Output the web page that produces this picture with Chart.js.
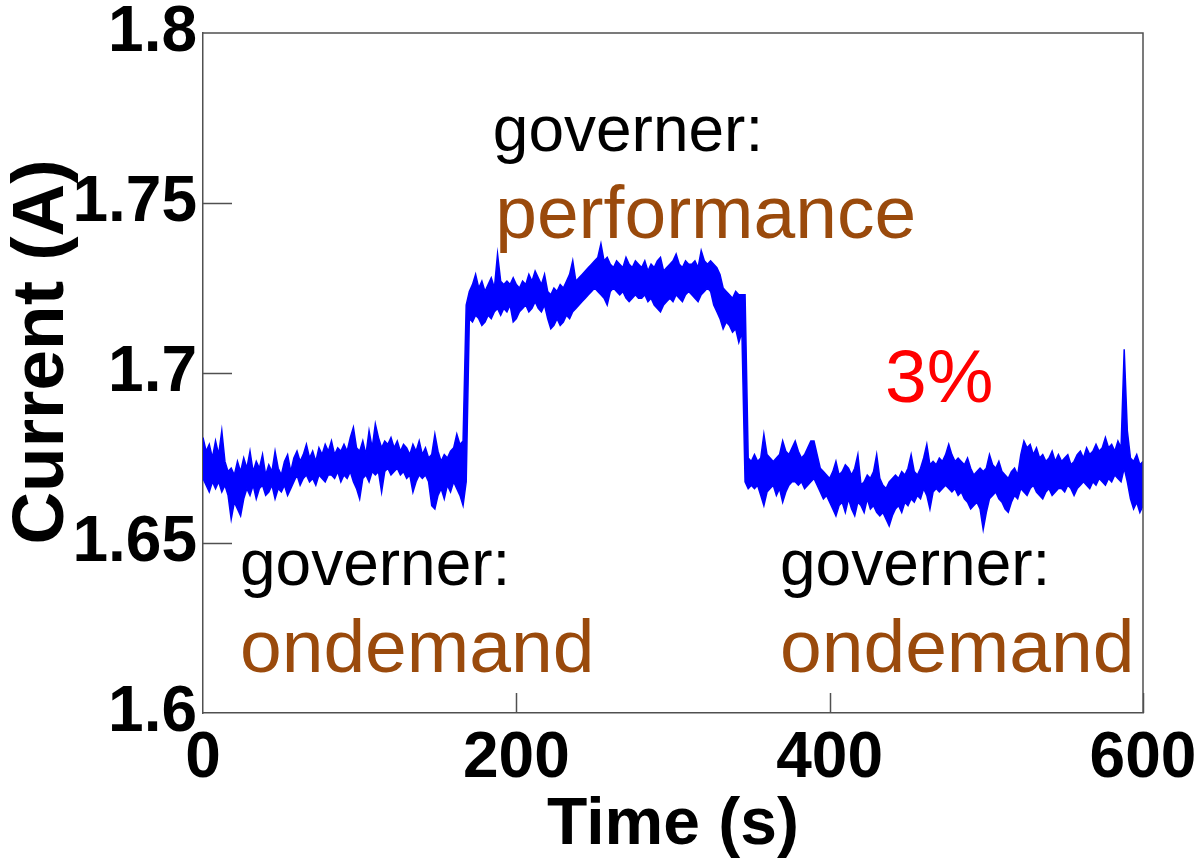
<!DOCTYPE html>
<html>
<head>
<meta charset="utf-8">
<script src="https://cdn.jsdelivr.net/npm/chart.js@4.4.1/dist/chart.umd.min.js"></script>
<style>
  html, body { margin: 0; padding: 0; background: #fff; }
  canvas { display: block; }
</style>
</head>
<body>
<canvas id="grafica" width="1203" height="859"></canvas>
<script>
// the trace is sampled far too fast to draw point by point,
// so it is kept as max / min of every 2 s bin and the gap is filled
const binStep = 2;

// governer: ondemand, 0..166 s
const maxOndemand1 = [
  1.681, 1.677, 1.679, 1.675, 1.680, 1.676, 1.683, 1.674,
  1.671, 1.672, 1.670, 1.674, 1.671, 1.675,
  1.672, 1.677, 1.671, 1.674, 1.672, 1.676, 1.670, 1.673, 1.671, 1.677, 1.672, 1.670, 1.674, 1.676, 1.671,
  1.675, 1.677, 1.674, 1.676, 1.679, 1.675, 1.677, 1.674, 1.678, 1.676, 1.679, 1.677,
  1.680, 1.676, 1.678, 1.677, 1.679, 1.677, 1.681, 1.684, 1.678, 1.677, 1.680, 1.676, 1.683, 1.678, 1.685,
  1.681, 1.678, 1.680, 1.679, 1.681, 1.678, 1.680, 1.677, 1.679, 1.678, 1.676, 1.679, 1.677, 1.680, 1.676, 1.678, 1.675,
  1.676, 1.682, 1.677, 1.674, 1.676, 1.675, 1.677, 1.678, 1.682, 1.679, 1.680
];
const minOndemand1 = [
  1.669, 1.667, 1.665, 1.668, 1.666, 1.668, 1.665, 1.667,
  1.664, 1.657, 1.662, 1.660, 1.658, 1.663,
  1.666, 1.664, 1.667, 1.663, 1.666, 1.667, 1.664, 1.665, 1.667, 1.663, 1.666, 1.665, 1.667, 1.664, 1.666,
  1.668, 1.670, 1.667, 1.669, 1.670, 1.668, 1.669, 1.667, 1.670, 1.669, 1.668, 1.670,
  1.670, 1.669, 1.671, 1.668, 1.670, 1.669, 1.671, 1.668, 1.666, 1.663, 1.669, 1.670, 1.668, 1.671, 1.670,
  1.671, 1.665, 1.671, 1.672, 1.670, 1.671, 1.672, 1.670, 1.671, 1.669, 1.670, 1.665, 1.668, 1.670, 1.669, 1.670, 1.668,
  1.661, 1.660, 1.664, 1.666, 1.663, 1.667, 1.665, 1.668, 1.666, 1.664, 1.661
];

// governer: performance, 168..346 s (both ends hold the step edges)
const maxPerformance = [
  1.720, 1.724, 1.726, 1.729, 1.725, 1.727, 1.724, 1.726, 1.728, 1.725, 1.735, 1.727,
  1.726, 1.727, 1.726, 1.728, 1.726, 1.725, 1.727, 1.726, 1.729, 1.727, 1.730, 1.728, 1.726, 1.729,
  1.724, 1.723, 1.725, 1.724, 1.726, 1.725, 1.727, 1.729, 1.733, 1.727, 1.728, 1.729, 1.730,
  1.731, 1.732, 1.733, 1.734, 1.738, 1.733, 1.734, 1.732, 1.731, 1.733, 1.732, 1.731, 1.734, 1.732, 1.731, 1.733, 1.732,
  1.731, 1.733, 1.730, 1.732, 1.731, 1.733, 1.734, 1.730, 1.731, 1.732, 1.733, 1.735, 1.732, 1.731, 1.733, 1.732,
  1.732, 1.733, 1.731, 1.736, 1.733, 1.732, 1.733,
  1.732, 1.731, 1.729, 1.725, 1.724, 1.723, 1.722, 1.724, 1.723, 1.723,
  1.723
];
const minPerformance = [
  1.668, 1.716, 1.715, 1.717, 1.716, 1.714, 1.715, 1.717, 1.716, 1.718, 1.719, 1.717,
  1.719, 1.718, 1.720, 1.715, 1.716, 1.718, 1.719, 1.720, 1.718, 1.719, 1.721, 1.719, 1.718, 1.720,
  1.716, 1.713, 1.714, 1.716, 1.714, 1.715, 1.717, 1.716, 1.718, 1.719, 1.720, 1.721, 1.722,
  1.723, 1.724, 1.725, 1.724, 1.723, 1.722, 1.720, 1.724, 1.725, 1.724, 1.723, 1.724, 1.722, 1.721, 1.722, 1.723, 1.722,
  1.722, 1.723, 1.721, 1.722, 1.720, 1.719, 1.718, 1.720, 1.721, 1.722, 1.721, 1.723, 1.722, 1.721, 1.723, 1.724,
  1.723, 1.722, 1.721, 1.723, 1.724, 1.725, 1.724,
  1.720, 1.718, 1.716, 1.713, 1.715, 1.714, 1.712, 1.713, 1.709, 1.712,
  1.668
];

// governer: ondemand again, 348..600 s
const maxOndemand2 = [
  1.675, 1.674, 1.676, 1.674, 1.675, 1.682, 1.676, 1.675, 1.674, 1.675, 1.676, 1.680, 1.677, 1.676, 1.678, 1.680, 1.677,
  1.675, 1.676, 1.678, 1.680, 1.680, 1.676, 1.672, 1.671, 1.670, 1.669, 1.671, 1.674, 1.670, 1.671, 1.673, 1.672,
  1.670, 1.672, 1.676, 1.667, 1.668, 1.670, 1.669, 1.671, 1.676, 1.669,
  1.667, 1.666, 1.668, 1.669, 1.670, 1.669, 1.671, 1.670, 1.672, 1.676, 1.671, 1.670, 1.672,
  1.675, 1.679, 1.673, 1.674, 1.673, 1.675, 1.674, 1.676, 1.679, 1.676, 1.674, 1.675, 1.674, 1.673, 1.675, 1.672, 1.670, 1.671, 1.672,
  1.671, 1.672, 1.676, 1.673, 1.672, 1.674, 1.671, 1.670, 1.669, 1.671, 1.672, 1.670,
  1.676, 1.680, 1.678, 1.679, 1.676, 1.678, 1.675, 1.676, 1.674, 1.675, 1.677, 1.674, 1.676,
  1.674, 1.675, 1.676, 1.673, 1.674, 1.676, 1.677, 1.675, 1.678, 1.676, 1.677, 1.679, 1.677, 1.678, 1.681, 1.678, 1.679, 1.677, 1.680, 1.678,
  1.707, 1.683,
  1.675, 1.674, 1.676, 1.673, 1.674
];
const minOndemand2 = [
  1.666, 1.667, 1.666, 1.667, 1.664, 1.661, 1.665, 1.666, 1.667, 1.664, 1.666, 1.662, 1.665, 1.667, 1.668, 1.668, 1.667,
  1.668, 1.666, 1.667, 1.668, 1.669, 1.667, 1.665, 1.663, 1.664, 1.662, 1.660, 1.658, 1.661, 1.662, 1.659, 1.663,
  1.660, 1.658, 1.662, 1.661, 1.659, 1.663, 1.660, 1.661, 1.659, 1.658,
  1.659, 1.657, 1.655, 1.658, 1.660, 1.661, 1.659, 1.662, 1.661, 1.663, 1.662, 1.664, 1.663,
  1.666, 1.664, 1.660, 1.665, 1.666, 1.665, 1.666, 1.667, 1.666, 1.665, 1.666, 1.664, 1.665, 1.663, 1.662, 1.660, 1.661, 1.662, 1.660,
  1.654, 1.659, 1.663, 1.664, 1.665, 1.663, 1.662, 1.660, 1.659, 1.662, 1.664, 1.663,
  1.666, 1.665, 1.664, 1.666, 1.667, 1.665, 1.664, 1.663, 1.665, 1.666, 1.664, 1.665, 1.666,
  1.666, 1.665, 1.667, 1.666, 1.664, 1.666, 1.667, 1.668, 1.667, 1.666, 1.668, 1.667, 1.669, 1.668, 1.667, 1.669, 1.668, 1.670, 1.669, 1.668,
  1.672, 1.668,
  1.663, 1.660, 1.662, 1.659, 1.661
];

// two little white strokes sitting on the trace near 415-430 s
const strokeTime  = [412.3, 416.8, null, 430.8, 425.7];
const strokeValue = [1.6676, 1.6641, null, 1.6676, 1.6635];

const xTicks = [0, 200, 400, 600];
const yTicks = [1.6, 1.65, 1.7, 1.75, 1.8];

const maxA = maxOndemand1.concat(maxPerformance, maxOndemand2);
const minA = minOndemand1.concat(minPerformance, minOndemand2);
const serieMax = maxA.map((v, i) => ({ x: i * binStep, y: v }));
const serieMin = minA.map((v, i) => ({ x: i * binStep, y: v }));
const strokes = strokeTime.map((t, i) => ({ x: t, y: strokeValue[i] }));

const fuente = "'Liberation Sans', Arial, Helvetica, sans-serif";
const colorEje = '#505050';
const azul = '#0000ff';
const cafe = '#9a4a0c';

// text boxes inside the plot, placed in data units (left edge, baseline)
const notas = [
  { text: 'governer:',   t: 185,   v: 1.7653, size: 64, color: '#000' },
  { text: 'performance', t: 186.5, v: 1.7397, size: 75, color: cafe },
  { text: '3%',          t: 435.3, v: 1.6915, size: 75, color: '#ff0000' },
  { text: 'governer:',   t: 23.6,  v: 1.6376, size: 64, color: '#000' },
  { text: 'ondemand',    t: 23.6,  v: 1.6121, size: 75, color: cafe },
  { text: 'governer:',   t: 368.3, v: 1.6376, size: 64, color: '#000' },
  { text: 'ondemand',    t: 368.3, v: 1.6121, size: 75, color: cafe }
];

// closes the box, draws the inward tick marks, the y title and the labels
const marco = {
  id: 'marco',
  afterDatasetsDraw(chart) {
    const { ctx, chartArea: a, scales: { x, y } } = chart;
    ctx.save();
    ctx.strokeStyle = colorEje;
    ctx.lineWidth = 1.5;
    ctx.beginPath();
    ctx.moveTo(a.left, a.top);
    ctx.lineTo(a.right, a.top);
    ctx.lineTo(a.right, a.bottom);
    xTicks.forEach(t => {
      if (t <= x.min) return;
      const px = Math.round(x.getPixelForValue(t)) + 0.5;
      ctx.moveTo(px, a.bottom);
      ctx.lineTo(px, a.bottom - 20);
    });
    yTicks.forEach(v => {
      if (v <= y.min || v >= y.max) return;
      const py = Math.round(y.getPixelForValue(v)) + 0.5;
      ctx.moveTo(a.left, py);
      ctx.lineTo(a.left + 29, py);
    });
    ctx.stroke();

    // y axis title, a bit above the middle of the axis
    ctx.save();
    ctx.translate(43, (a.top + a.bottom) / 2 - 21);
    ctx.rotate(-Math.PI / 2);
    ctx.font = 'bold 73px ' + fuente;
    ctx.fillStyle = '#000';
    ctx.textAlign = 'center';
    ctx.textBaseline = 'middle';
    ctx.fillText('Current (A)', 0, 0);
    ctx.restore();

    ctx.textAlign = 'left';
    ctx.textBaseline = 'alphabetic';
    notas.forEach(n => {
      ctx.font = n.size + 'px ' + fuente;
      ctx.fillStyle = n.color;
      ctx.fillText(n.text, x.getPixelForValue(n.t), y.getPixelForValue(n.v));
    });
    ctx.restore();
  }
};

const config = {
  type: 'line',
  data: {
    datasets: [
      {
        label: 'max',
        data: serieMax,
        borderColor: azul,
        borderWidth: 1.5,
        pointRadius: 0,
        tension: 0,
        fill: false
      },
      {
        label: 'min',
        data: serieMin,
        borderColor: azul,
        backgroundColor: azul,
        borderWidth: 1.5,
        pointRadius: 0,
        tension: 0,
        fill: '-1'
      },
      {
        label: 'strokes',
        data: strokes,
        borderColor: '#ffffff',
        borderWidth: 2.5,
        pointRadius: 0,
        spanGaps: false,
        fill: false
      }
    ]
  },
  options: {
    responsive: false,
    animation: false,
    devicePixelRatio: 1,
    layout: { padding: { top: 33, right: 60, left: 0, bottom: 0 } },
    plugins: { legend: { display: false }, tooltip: { enabled: false } },
    scales: {
      x: {
        type: 'linear',
        min: 0,
        max: 600,
        afterBuildTicks: s => { s.ticks = xTicks.map(v => ({ value: v })); },
        afterFit: s => { s.height = 146; s.paddingLeft = 0; s.paddingRight = 0; },
        grid: { display: false, drawTicks: false },
        border: { display: true, color: colorEje, width: 1.5 },
        ticks: {
          color: '#000',
          padding: 14,
          maxRotation: 0,
          font: { family: fuente, size: 64, weight: 'bold', lineHeight: 1 }
        },
        title: {
          display: true,
          text: 'Time (s)',
          color: '#000',
          padding: { top: 0, bottom: 0 },
          font: { family: fuente, size: 66, weight: 'bold', lineHeight: 1 }
        }
      },
      y: {
        min: 1.6,
        max: 1.8,
        afterBuildTicks: s => { s.ticks = yTicks.map(v => ({ value: v })); },
        afterFit: s => { s.width = 203; s.paddingTop = 0; s.paddingBottom = 0; },
        grid: { display: false, drawTicks: false },
        border: { display: true, color: colorEje, width: 1.5 },
        ticks: {
          color: '#000',
          padding: 6,
          callback: v => String(Number(v.toFixed(2))),
          font: { family: fuente, size: 64, weight: 'bold', lineHeight: 1 }
        },
        title: { display: false }
      }
    }
  },
  plugins: [marco]
};

window.grafica = new Chart(document.getElementById('grafica'), config);
</script>
</body>
</html>
